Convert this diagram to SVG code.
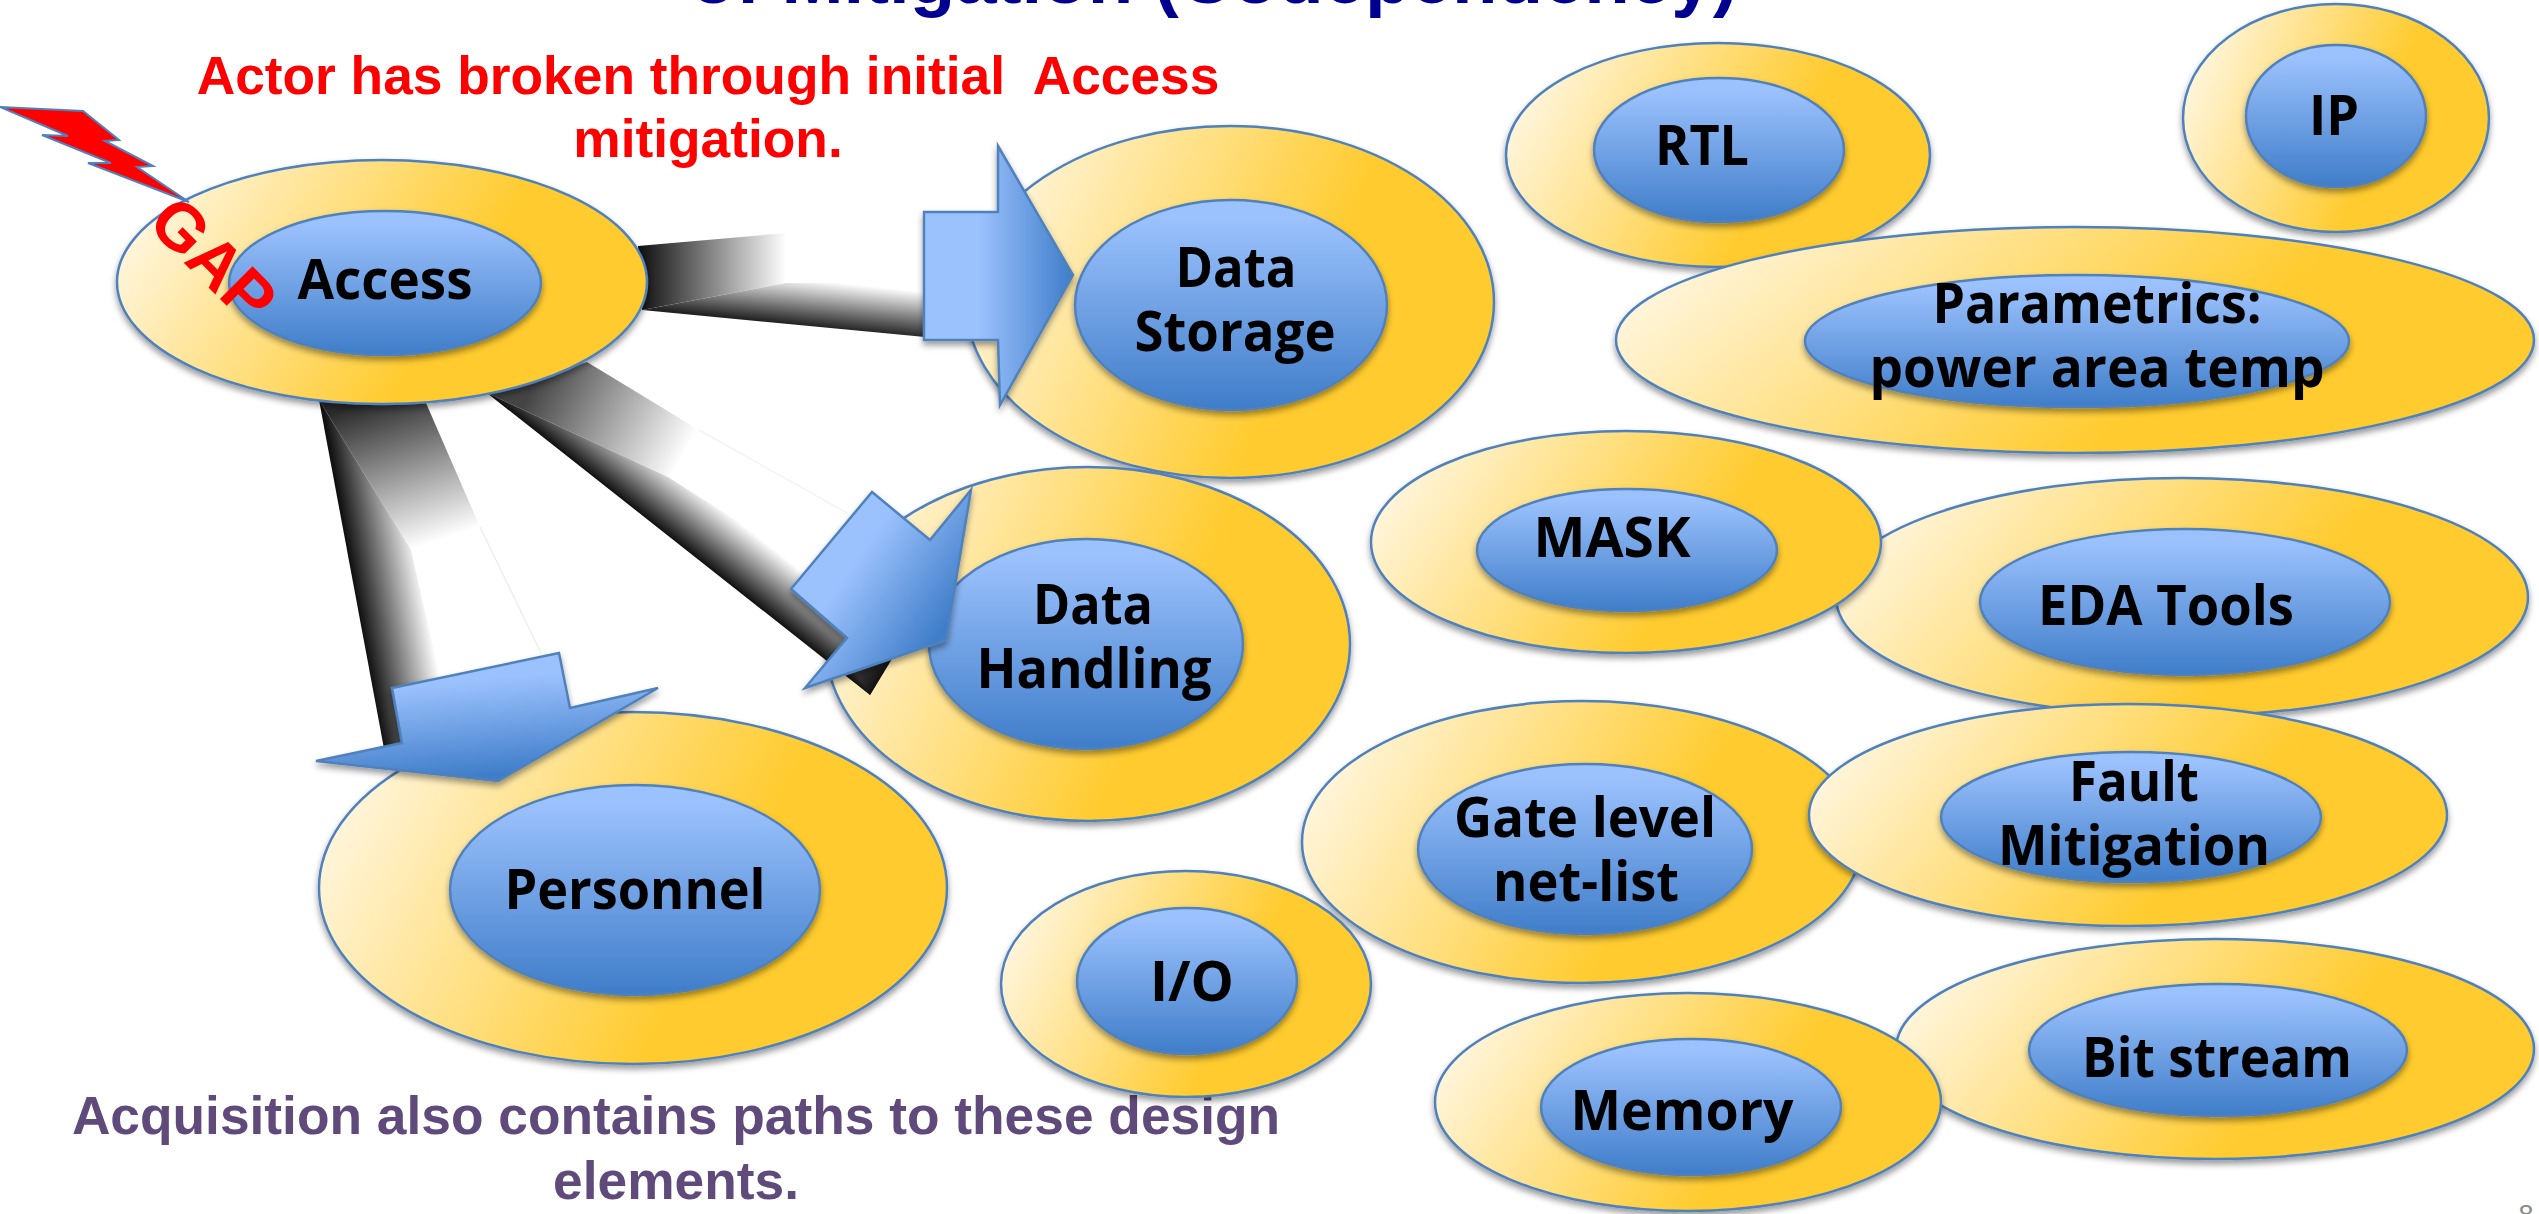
<svg xmlns="http://www.w3.org/2000/svg" width="2539" height="1214" viewBox="0 0 2539 1214">
<defs>
<linearGradient id="gOuter" x1="0" y1="0.35" x2="1" y2="0.65"><stop offset="0" stop-color="#fff6df"/><stop offset="0.65" stop-color="#ffcb2e"/><stop offset="1" stop-color="#ffcb2e"/></linearGradient>
<linearGradient id="gInner" x1="0" y1="0" x2="0" y2="1"><stop offset="0.08" stop-color="#9cc2fd"/><stop offset="1" stop-color="#3f7dc9"/></linearGradient>
<linearGradient id="gA1" x1="0" y1="0" x2="1" y2="0"><stop offset="0.36" stop-color="#9cc2fd"/><stop offset="1" stop-color="#3f7dc9"/></linearGradient>
<linearGradient id="gA2" x1="0.25" y1="0.25" x2="0.85" y2="0.7"><stop offset="0.2" stop-color="#9cc2fd"/><stop offset="1" stop-color="#3f7dc9"/></linearGradient>
<linearGradient id="gA3" x1="0.35" y1="0.1" x2="0.55" y2="0.95"><stop offset="0.15" stop-color="#9cc2fd"/><stop offset="1" stop-color="#3f7dc9"/></linearGradient>
<linearGradient id="b1L" gradientUnits="userSpaceOnUse" x1="640" y1="0" x2="786" y2="0"><stop offset="0" stop-color="#111"/><stop offset="1" stop-color="#fff"/></linearGradient>
<linearGradient id="b1B" gradientUnits="userSpaceOnUse" x1="860" y1="285" x2="855" y2="331"><stop offset="0" stop-color="#fff"/><stop offset="1" stop-color="#222"/></linearGradient>
<linearGradient id="b2T" gradientUnits="userSpaceOnUse" x1="537" y1="378" x2="684" y2="455"><stop offset="0" stop-color="#444"/><stop offset="1" stop-color="#fff"/></linearGradient>
<linearGradient id="b2S" gradientUnits="userSpaceOnUse" x1="737" y1="520" x2="703" y2="563"><stop offset="0" stop-color="#fff"/><stop offset="1" stop-color="#111"/></linearGradient>
<linearGradient id="b2E" gradientUnits="userSpaceOnUse" x1="880" y1="680" x2="837" y2="654"><stop offset="0" stop-color="#111"/><stop offset="1" stop-color="#666"/></linearGradient>
<linearGradient id="b3T" gradientUnits="userSpaceOnUse" x1="370" y1="400" x2="419" y2="547"><stop offset="0" stop-color="#2a2a2a"/><stop offset="1" stop-color="#fff"/></linearGradient>
<linearGradient id="b3S" gradientUnits="userSpaceOnUse" x1="436" y1="655" x2="369" y2="667"><stop offset="0" stop-color="#fff"/><stop offset="1" stop-color="#111"/></linearGradient>
<filter id="sh" x="-10%" y="-10%" width="120%" height="125%"><feDropShadow dx="0" dy="4" stdDeviation="3" flood-color="#000" flood-opacity="0.4"/></filter>
</defs>
<style>
.o{fill:url(#gOuter);stroke:#4f81bd;stroke-width:2.5;filter:url(#sh)}
.i{fill:url(#gInner);stroke:#4f81bd;stroke-width:2.5;filter:url(#sh)}
.l{font-family:"Open Sans","Noto Sans",sans-serif;font-weight:700;font-size:56px;fill:#000;text-anchor:middle}
.h{font-family:"Liberation Sans",Arial,sans-serif;font-weight:700;font-size:53.3px;text-anchor:middle}
.a{stroke:#4f81bd;stroke-width:2.5;filter:url(#sh)}
</style>
<text class="h" x="1214" y="3" style="font-size:74.5px" fill="#000090">of Mitigation (Codependency)</text>
<text class="h" x="708" y="94" fill="#f00" xml:space="preserve">Actor has broken through initial  Access</text>
<text class="h" x="708" y="157" fill="#f00">mitigation.</text>
<text class="h" x="676" y="1134" fill="#604a7b">Acquisition also contains paths to these design</text>
<text class="h" x="676" y="1199" fill="#604a7b">elements.</text>
<text x="2526" y="1224" font-family="Liberation Sans, Arial, sans-serif" font-size="27" fill="#8b8b8b" text-anchor="middle">8</text>

<g id="node-rtl"><ellipse class="o" cx="1718" cy="155" rx="212" ry="112"/><ellipse class="i" cx="1719" cy="150" rx="125" ry="72"/><text class="l" x="1702" y="165" textLength="94" lengthAdjust="spacingAndGlyphs">RTL</text></g>
<g id="node-ip"><ellipse class="o" cx="2336" cy="118" rx="153" ry="114"/><ellipse class="i" cx="2336" cy="116" rx="90" ry="71"/><text class="l" x="2334" y="135" textLength="50" lengthAdjust="spacingAndGlyphs">IP</text></g>
<g id="node-parametrics"><ellipse class="o" cx="2075" cy="340" rx="459" ry="113"/><ellipse class="i" cx="2077" cy="341" rx="272" ry="66"/><text class="l" x="2097" y="323" textLength="329" lengthAdjust="spacingAndGlyphs">Parametrics:</text><text class="l" x="2097" y="387" textLength="455" lengthAdjust="spacingAndGlyphs">power area temp</text></g>
<g id="node-eda"><ellipse class="o" cx="2182" cy="597" rx="346" ry="119"/><ellipse class="i" cx="2185" cy="602" rx="205" ry="73"/><text class="l" x="2166" y="625" textLength="256" lengthAdjust="spacingAndGlyphs">EDA Tools</text></g>
<g id="node-mask"><ellipse class="o" cx="1626" cy="542" rx="255" ry="111"/><ellipse class="i" cx="1627" cy="550" rx="150" ry="61"/><text class="l" x="1612" y="557" textLength="157" lengthAdjust="spacingAndGlyphs">MASK</text></g>
<g id="node-gate"><ellipse class="o" cx="1582" cy="842" rx="280" ry="141"/><ellipse class="i" cx="1585" cy="849" rx="167" ry="85"/><text class="l" x="1585" y="837" textLength="262" lengthAdjust="spacingAndGlyphs">Gate level</text><text class="l" x="1586" y="901" textLength="186" lengthAdjust="spacingAndGlyphs">net-list</text></g>
<g id="node-fault"><ellipse class="o" cx="2128" cy="815" rx="319" ry="111"/><ellipse class="i" cx="2131" cy="817" rx="190" ry="65"/><text class="l" x="2134" y="801" textLength="130" lengthAdjust="spacingAndGlyphs">Fault</text><text class="l" x="2134" y="865" textLength="272" lengthAdjust="spacingAndGlyphs">Mitigation</text></g>
<g id="node-bitstream"><ellipse class="o" cx="2215" cy="1049" rx="319" ry="110"/><ellipse class="i" cx="2218" cy="1050" rx="189" ry="66"/><text class="l" x="2217" y="1077" textLength="270" lengthAdjust="spacingAndGlyphs">Bit stream</text></g>
<g id="node-memory"><ellipse class="o" cx="1688" cy="1102" rx="253" ry="109"/><ellipse class="i" cx="1691" cy="1107" rx="150" ry="68"/><text class="l" x="1682" y="1130" textLength="223" lengthAdjust="spacingAndGlyphs">Memory</text></g>
<g id="node-io"><ellipse class="o" cx="1186" cy="984" rx="185" ry="113"/><ellipse class="i" cx="1187" cy="981" rx="110" ry="73"/><text class="l" x="1192" y="1001" textLength="84" lengthAdjust="spacingAndGlyphs">I/O</text></g>

<g id="node-storage"><ellipse class="o" cx="1230" cy="302" rx="264" ry="176"/><ellipse class="i" cx="1231" cy="305" rx="156" ry="105"/><text class="l" x="1236" y="287" textLength="121" lengthAdjust="spacingAndGlyphs">Data</text><text class="l" x="1235" y="351" textLength="201" lengthAdjust="spacingAndGlyphs">Storage</text></g>
<g id="node-handling"><ellipse class="o" cx="1088" cy="644" rx="262" ry="177"/><ellipse class="i" cx="1086" cy="644" rx="157" ry="105"/><text class="l" x="1093" y="624" textLength="120" lengthAdjust="spacingAndGlyphs">Data</text><text class="l" x="1094" y="688" textLength="235" lengthAdjust="spacingAndGlyphs">Handling</text></g>
<g id="node-personnel"><ellipse class="o" cx="633" cy="888" rx="314" ry="176"/><ellipse class="i" cx="635" cy="890" rx="185" ry="105"/><text class="l" x="635" y="909" textLength="261" lengthAdjust="spacingAndGlyphs">Personnel</text></g>

<g id="connectors">
<polygon points="638,246 786,233 786,283 642,310" fill="url(#b1L)"/>
<polygon points="642,310 786,283 925,283 925,337" fill="url(#b1B)"/>
<polygon points="587,362 487,393 668,477 699,430" fill="url(#b2T)"/>
<polygon points="487,393 668,477 803,563 946,570 870,695" fill="url(#b2S)"/>
<polygon points="870,695 946,570 900,560 847,660" fill="url(#b2E)"/>
<polygon points="319,400 426,403 480,527 411,550" fill="url(#b3T)"/>
<polygon points="319,400 411,550 445,700 388,770" fill="url(#b3S)"/>
<line x1="480" y1="527" x2="541" y2="653" stroke="#eee" stroke-width="1.5"/>
<line x1="699" y1="430" x2="847" y2="513" stroke="#f4f4f4" stroke-width="1.5"/>
<polygon class="a" points="924,212 998,212 998,146 1073,275 1000,405 998,340 924,340" fill="url(#gA1)"/>
<polygon class="a" points="872,492 930,540 971,490 946,640 805,688 847,638 791,589" fill="url(#gA2)"/>
<polygon class="a" points="559,653 570,708 658,688 498,781 316,761 402,743 392,688" fill="url(#gA3)"/>
</g>

<g id="node-access"><ellipse class="o" cx="382" cy="282" rx="265" ry="122"/><ellipse class="i" cx="385" cy="283" rx="156" ry="72"/><text class="l" x="385" y="299" textLength="175" lengthAdjust="spacingAndGlyphs">Access</text></g>
<g id="gap"><polygon points="0,107 83,111 119,140 105,141 153,166 137,167 189,202 88,163 111,163 42,135 68,136" fill="#f00" stroke="#4f81bd" stroke-width="2"/><text class="h" transform="translate(197,276) rotate(45)" style="font-size:67px" fill="#f00">GAP</text></g>
</svg>
